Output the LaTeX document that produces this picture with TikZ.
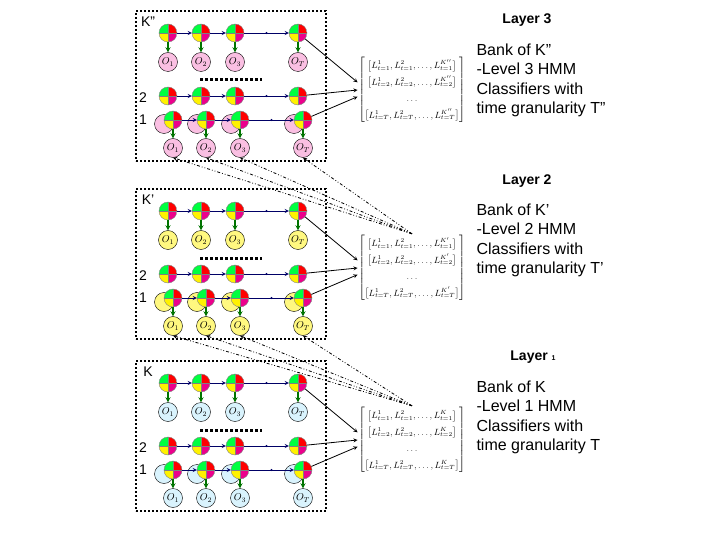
\documentclass[tikz,border=0pt]{standalone}
\usepackage{amsmath}
\usepackage{fontspec}
\setmainfont{Liberation Sans}
\usepackage{tikz}
\usetikzlibrary{calc}

\tikzset{
  state/.style={circle,draw=gray,minimum size=18pt,inner sep=0pt,
    path picture={
      \fill[green!75!cyan] (path picture bounding box.center) rectangle (path picture bounding box.north west);
      \fill[red] (path picture bounding box.center) rectangle (path picture bounding box.north east);
      \fill[yellow] (path picture bounding box.center) rectangle (path picture bounding box.south west);
      \fill[magenta] (path picture bounding box.center) rectangle (path picture bounding box.south east);
      \draw[gray,thin] (path picture bounding box.north) -- (path picture bounding box.south)
        (path picture bounding box.west) -- (path picture bounding box.east);}},
  obs/.style={circle,draw=black,fill=#1,minimum size=19pt,inner sep=0pt,font=\normalsize},
  chain/.style={->,draw=blue!40!black,thick},
  emit/.style={->,draw=green!45!black,very thick},
  feed/.style={->,thick,dash dot dot},
  box/.style={draw,line width=2pt,dotted},
  dot/.style={circle,fill=blue!40!black,inner sep=0.8pt},
  lbl/.style={font=\fontsize{14}{16}\selectfont},
  bank/.style={align=left,anchor=north west,font=\fontsize{16}{19.5}\selectfont},
  layer/.style={font=\fontsize{14}{16}\selectfont\bfseries}
}

% one bank: name, top, observation colour, K label, superscript
\newcommand{\hmmbank}[5]{
\node[box,minimum width=190pt,minimum height=150pt,anchor=north west] (#1box) at (135,#2) {};
\node[lbl] at (148,#2+12) {#4};
\node[lbl] at (143,#2+88) {2};
\node[lbl] at (143,#2+110) {1};
\draw[line width=3pt,dotted] (200,#2+70) -- (262,#2+70);
\foreach \x/\s [count=\i] in {168/1,201/2,235/3,298/T} {
  \node[state] (#1k\i) at (\x,#2+23) {};
  \node[obs=#3] (#1o\i) at (\x,#2+52) {$O_{\s}$};
  \draw[emit] (#1k\i) -- (#1o\i);
  \node[state] (#1s\i) at (\x,#2+86) {};
  \node[obs=#3] (#1g\i) at (\x-4,#2+114) {};
  \node[state] (#1r\i) at (\x+5,#2+110) {};
  \node[obs=#3] (#1p\i) at (\x+5,#2+138) {$O_{\s}$};
  \draw[emit] (#1r\i) -- (#1p\i);
}
\foreach \r in {k,s,r} {
  \draw[chain] (#1\r1) -- (#1\r2);
  \draw[chain] (#1\r2) -- (#1\r3);
  \draw[chain] (#1\r3) -- node[dot]{} (#1\r4);
}
\node[font=\small,inner sep=1pt] (#1m) at (412,#2+80) {\renewcommand{\arraystretch}{1.5}$\left[\begin{matrix}
  \bigl[L^1_{t=1},L^2_{t=1},\dots,L^{#5}_{t=1}\bigr]\\
  \bigl[L^1_{t=2},L^2_{t=2},\dots,L^{#5}_{t=2}\bigr]\\
  \dots\\
  \bigl[L^1_{t=T},L^2_{t=T},\dots,L^{#5}_{t=T}\bigr]
\end{matrix}\right]$};
\draw[->,thick] (#1k4) -- (#1m.172);
\draw[->,thick] (#1s4) -- (#1m.180);
\draw[->,thick] (#1r4) -- (#1m.187);
}

\begin{document}
\begin{tikzpicture}[>=stealth,x=1pt,y=-1pt]
\useasboundingbox (0,0) rectangle (720,540);
\hmmbank{A}{10}{magenta!25}{K''}{K''}
\hmmbank{B}{188}{yellow!50}{K'}{K'}
\hmmbank{C}{360}{cyan!15}{K}{K}

\node[bank] at (473,40) {Bank of K''\\-Level 3 HMM\\Classifiers with\\time granularity T''};
\node[bank] at (473,200) {Bank of K'\\-Level 2 HMM\\Classifiers with\\time granularity T'};
\node[bank] at (473,377) {Bank of K\\-Level 1 HMM\\Classifiers with\\time granularity T};
\node[layer] at (527,20) {Layer 3};
\node[layer] at (527,181) {Layer 2};
\node[layer] at (533,357) {Layer {\scriptsize 1}};

\foreach \i in {1,...,4} {
  \draw[feed] (Bm.north) -- (Ap\i.south);
  \draw[feed] (Cm.north) -- (Bp\i.south);
}
\end{tikzpicture}
\end{document}
